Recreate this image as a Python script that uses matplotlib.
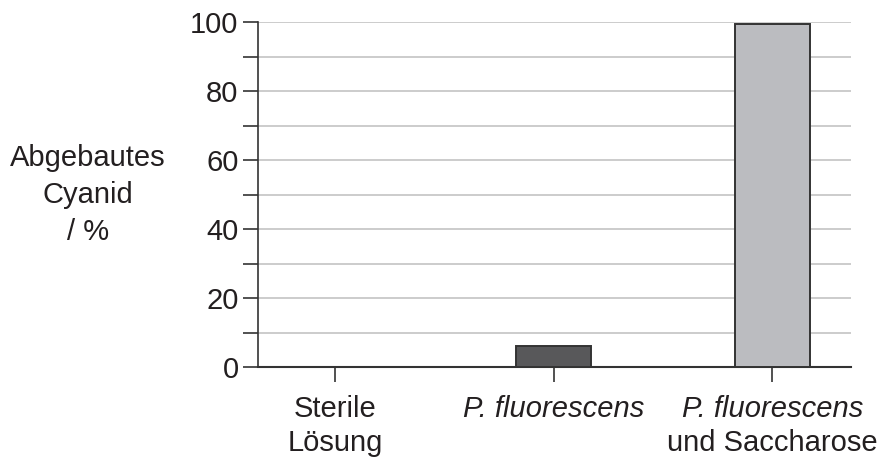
import numpy as np
import matplotlib.pyplot as plt
from matplotlib.transforms import blended_transform_factory

# data
categories = ["Sterile Lösung", "P. fluorescens", "P. fluorescens und Saccharose"]
values = [0, 6, 99.5]
bar_colors = ["#58585a", "#58585a", "#bbbcc0"]
label_line1 = ["Sterile", "P. fluorescens", "P. fluorescens"]
label_line1_italic = [False, True, True]
label_line2 = ["Lösung", "", "und Saccharose"]

plt.rcParams['font.family'] = ['Liberation Sans', 'DejaVu Sans']
fs = 21
txt_col = "#231f20"

fig = plt.figure(figsize=(8.79, 4.59), dpi=100)
ax = fig.add_axes([258 / 879, 1 - 367 / 459, (851 - 258) / 879, (367 - 22) / 459])

x = np.arange(len(categories))
for xi, v, c in zip(x, values, bar_colors):
    if v > 0:
        ax.bar(xi, v, width=0.345, color=c, edgecolor="#333333", linewidth=1.4, zorder=3)

ax.set_xlim(-0.352, 2.36)
ax.set_ylim(0, 100)

ax.set_yticks(np.arange(0, 101, 20))
ax.set_yticks(np.arange(10, 100, 20), minor=True)
ax.yaxis.grid(True, which="both", color="#c4c4c4", linewidth=1.2, zorder=0)
ax.set_axisbelow(True)

ax.tick_params(axis="y", which="both", direction="out", length=11, width=1.2,
               color="#333333", labelsize=fs, labelcolor=txt_col, pad=3)
ax.tick_params(axis="x", direction="out", length=11, width=1.2, color="#333333")
ax.set_xticks(x)
ax.set_xticklabels([])

for s in ["top", "right"]:
    ax.spines[s].set_visible(False)
ax.spines["left"].set_color("#333333")
ax.spines["bottom"].set_color("#333333")
ax.spines["left"].set_linewidth(1.2)
ax.spines["bottom"].set_linewidth(1.5)

trans = blended_transform_factory(ax.transData, ax.transAxes)
for xi, l1, it, l2 in zip(x, label_line1, label_line1_italic, label_line2):
    ax.text(xi, -0.122, l1, transform=trans, ha="center", va="center", fontsize=fs,
            color=txt_col, style="italic" if it else "normal")
    if l2:
        ax.text(xi, -0.221, l2, transform=trans, ha="center", va="center",
                fontsize=fs, color=txt_col)

fig.text(88 / 879, 1 - 195 / 459, "Abgebautes\nCyanid\n/ %", ha="center", va="center",
         fontsize=fs, color=txt_col, linespacing=1.4)

fig.savefig("out.png", dpi=100)
